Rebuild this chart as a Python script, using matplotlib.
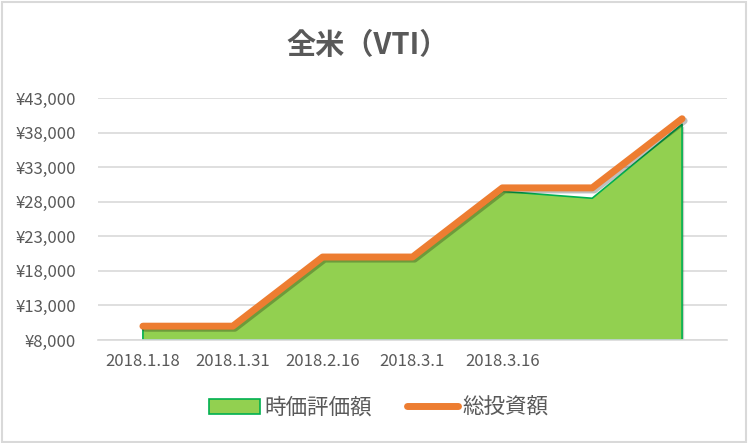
import matplotlib
matplotlib.use("Agg")
import matplotlib.pyplot as plt
from matplotlib.patches import Rectangle, Patch
from matplotlib.lines import Line2D
from matplotlib.ticker import FuncFormatter
import matplotlib.patheffects as pe

plt.rcParams['font.family'] = ['Noto Sans CJK JP', 'DejaVu Sans']

categories = ["2018.1.18", "2018.1.31", "2018.2.16", "2018.3.1", "2018.3.16", "", ""]
market_value = [9700, 9700, 19700, 19700, 29500, 28500, 39200]
total_invest = [10000, 10000, 20000, 20000, 30000, 30000, 40000]
yticks = [8000, 13000, 18000, 23000, 28000, 33000, 38000, 43000]
series_names = ["時価評価額", "総投資額"]

fig = plt.figure(figsize=(7.5, 4.43), dpi=100)
fig.patch.set_facecolor("white")
fig.add_artist(Rectangle((0.002, 0.002), 0.992, 0.994, transform=fig.transFigure,
                         fill=False, edgecolor="#D9D9D9", linewidth=1.5))

ax = fig.add_axes([98/750, 1-340/443, (727-98)/750, (340-98)/443])
x = list(range(len(categories)))

ax.fill_between(x, yticks[0], market_value, facecolor="#92D050",
                edgecolor="#00B050", linewidth=1.2, zorder=2,
                path_effects=[pe.SimplePatchShadow(offset=(1.5, -1.5), alpha=0.25), pe.Normal()])
ax.plot(x, total_invest, color="#ED7D31", linewidth=5, solid_capstyle="round",
        solid_joinstyle="round", zorder=3,
        path_effects=[pe.SimpleLineShadow(offset=(1.5, -1.5), alpha=0.25), pe.Normal()])

ax.set_xlim(-0.5, len(categories) - 0.5)
ax.set_ylim(yticks[0], yticks[-1])
ax.set_yticks(yticks)
ax.yaxis.set_major_formatter(FuncFormatter(lambda v, p: "¥{:,.0f}".format(v)))
ax.set_xticks(x)
ax.set_xticklabels(categories)
ax.grid(axis="y", color="#D9D9D9", linewidth=1.2, zorder=0)
ax.set_axisbelow(True)
for s in ["top", "right", "left"]:
    ax.spines[s].set_visible(False)
ax.spines["bottom"].set_color("#D9D9D9")
ax.spines["bottom"].set_linewidth(1.2)
ax.tick_params(axis="both", length=0, colors="#595959", labelsize=12)
ax.tick_params(axis="y", pad=16)
ax.tick_params(axis="x", pad=9)

fig.text(0.49, 1-45/443, "全米（VTI）", ha="center", va="center",
         fontsize=21, fontweight="bold", color="#595959")

handles = [Patch(facecolor="#92D050", edgecolor="#00B050", linewidth=1.2),
           Line2D([0], [0], color="#ED7D31", linewidth=5, solid_capstyle="round")]
fig.legend(handles, series_names, loc="center", bbox_to_anchor=(0.505, 1-408/443), ncol=2,
           frameon=False, fontsize=15.5, handlelength=2.4, handletextpad=0.2,
           columnspacing=1.6, labelcolor="#595959")

fig.savefig("out.png", dpi=100, facecolor="white")
